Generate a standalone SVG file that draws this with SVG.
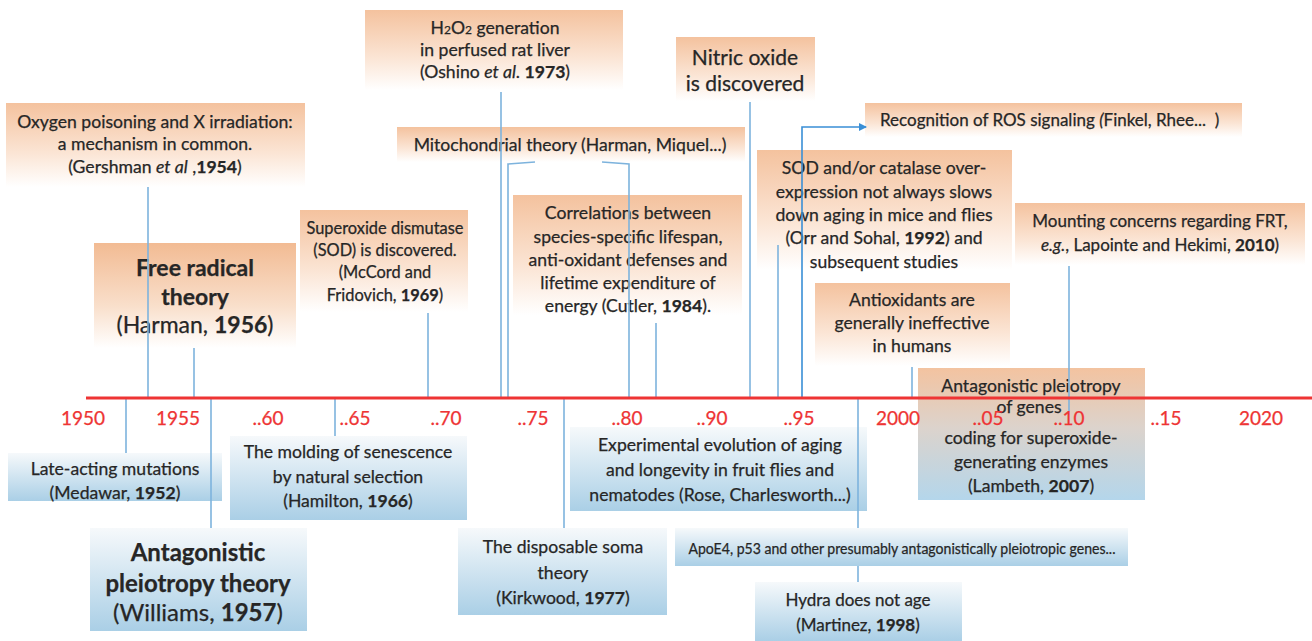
<svg xmlns="http://www.w3.org/2000/svg" width="1312" height="641" viewBox="0 0 1312 641">
<defs>
<linearGradient id="og" x1="0" y1="0" x2="0" y2="1"><stop offset="0" stop-color="#f4c29e"/><stop offset="0.6" stop-color="#fbe5d5"/><stop offset="1" stop-color="#ffffff"/></linearGradient>
<linearGradient id="ogs" x1="0" y1="0" x2="0" y2="1"><stop offset="0" stop-color="#f2bb93"/><stop offset="0.6" stop-color="#f9dfcb"/><stop offset="1" stop-color="#ffffff"/></linearGradient>
<linearGradient id="bg" x1="0" y1="0" x2="0" y2="1"><stop offset="0" stop-color="#f6f9fb"/><stop offset="1" stop-color="#aacfe6"/></linearGradient>
<linearGradient id="mg" x1="0" y1="0" x2="0" y2="1"><stop offset="0" stop-color="#f3c3a0"/><stop offset="0.45" stop-color="#dcd3cc"/><stop offset="1" stop-color="#b4d6eb"/></linearGradient>
<marker id="arr" markerWidth="8" markerHeight="8" refX="7" refY="4" orient="auto" markerUnits="userSpaceOnUse"><path d="M0,0 L8,4 L0,8 Z" fill="#3a8fd6"/></marker>
<style>
text{font-family:Lato,"Liberation Sans",sans-serif;fill:#262626;stroke:#262626;stroke-width:0.25;text-anchor:middle;font-size:17.6px}
.s16{font-size:16.4px}
.s17{font-size:17px}
.s15{font-size:15.5px}
.big{font-size:23px}
.wil{font-size:24px}
.nit{font-size:21px}
.b{font-weight:bold}
.i{font-style:italic}
.yr{fill:#ee3434;stroke:#ee3434;font-size:19px}
.c{stroke:#7db3dd;stroke-width:1.6;fill:none}
.a{stroke:#3a8fd6;stroke-width:1.6;fill:none}
.ax{stroke:#ee3434;stroke-width:3}
</style>
</defs>
<rect width="1312" height="641" fill="#ffffff"/>

<g id="n-gershman"><rect x="6" y="103" width="299" height="84" fill="url(#og)"/>
<text x="155" y="128">Oxygen poisoning and X irradiation:</text>
<text x="155" y="150">a mechanism in common.</text>
<text x="155" y="173">(Gershman <tspan class="i">et al</tspan> ,<tspan class="b">1954</tspan>)</text></g>

<g id="n-freeradical"><rect x="94" y="243" width="202" height="105" fill="url(#ogs)"/>
<text class="big b" x="195" y="276">Free radical</text>
<text class="big b" x="195" y="305">theory</text>
<text class="big" x="195" y="333">(Harman, <tspan class="b">1956</tspan>)</text></g>

<g id="n-sod"><rect x="300" y="210" width="168" height="102" fill="url(#og)"/>
<text class="s16" x="385" y="234">Superoxide dismutase</text>
<text class="s16" x="385" y="256">(SOD) is discovered.</text>
<text class="s16" x="385" y="278">(McCord and</text>
<text class="s16" x="385" y="301">Fridovich, <tspan class="b">1969</tspan>)</text></g>

<g id="n-h2o2"><rect x="365" y="10" width="258" height="80" fill="url(#og)"/>
<text x="495" y="34">H<tspan font-size="12">2</tspan>O<tspan font-size="12">2</tspan> generation</text>
<text x="495" y="56">in perfused rat liver</text>
<text x="495" y="78">(Oshino <tspan class="i">et al</tspan>. <tspan class="b">1973</tspan>)</text></g>

<g id="n-mito"><rect x="397" y="127" width="348" height="35" fill="url(#og)"/>
<text x="570" y="151">Mitochondrial theory (Harman, Miquel...)</text></g>

<g id="n-cutler"><rect x="513" y="195" width="229" height="120" fill="url(#og)"/>
<text x="628" y="219">Correlations between</text>
<text x="628" y="243">species-specific lifespan,</text>
<text x="628" y="266">anti-oxidant defenses and</text>
<text x="628" y="289">lifetime expenditure of</text>
<text x="628" y="312">energy (Cutler, <tspan class="b">1984</tspan>).</text></g>

<g id="n-nitric"><rect x="676" y="37" width="139" height="64" fill="url(#og)"/>
<text class="nit" x="745" y="65">Nitric oxide</text>
<text class="nit" x="745" y="91">is discovered</text></g>

<g id="n-ros"><rect x="865" y="103" width="377" height="34" fill="url(#og)"/>
<text class="s17" x="880" y="126" style="text-anchor:start" xml:space="preserve">Recognition of ROS signaling <tspan class="i">(</tspan>Finkel, Rhee...  )</text></g>

<g id="n-sodcat"><rect x="757" y="150" width="255" height="120" fill="url(#og)"/>
<text x="884" y="174">SOD and/or catalase over-</text>
<text x="884" y="198">expression not always slows</text>
<text x="884" y="221">down aging in mice and flies</text>
<text x="884" y="244">(Orr and Sohal, <tspan class="b">1992</tspan>) and</text>
<text x="884" y="268">subsequent studies</text></g>

<g id="n-mounting"><rect x="1015" y="203" width="290" height="62" fill="url(#og)"/>
<text class="s17" x="1160" y="227">Mounting concerns regarding FRT,</text>
<text class="s17" x="1160" y="251"><tspan class="i">e.g.</tspan>, Lapointe and Hekimi, <tspan class="b">2010</tspan>)</text></g>

<g id="n-antiox"><rect x="815" y="283" width="195" height="83" fill="url(#og)"/>
<text x="912" y="306">Antioxidants are</text>
<text x="912" y="329">generally ineffective</text>
<text x="912" y="352">in humans</text></g>

<g id="n-lambeth"><rect x="918" y="368" width="227" height="132" fill="url(#mg)"/>
<text x="1031" y="392">Antagonistic pleiotropy</text>
<text x="1029" y="413" font-size="12.5">of genes</text>
<text x="1031" y="444">coding for superoxide-</text>
<text x="1031" y="468">generating enzymes</text>
<text x="1031" y="492">(Lambeth, <tspan class="b">2007</tspan>)</text></g>

<g id="n-medawar"><rect x="8" y="453" width="214" height="48" fill="url(#bg)"/>
<text x="115" y="475">Late-acting mutations</text>
<text x="115" y="499">(Medawar, <tspan class="b">1952</tspan>)</text></g>

<g id="n-hamilton"><rect x="230" y="436" width="237" height="84" fill="url(#bg)"/>
<text x="348" y="458">The molding of senescence</text>
<text x="348" y="483">by natural selection</text>
<text x="348" y="507">(Hamilton, <tspan class="b">1966</tspan>)</text></g>

<g id="n-williams"><rect x="90" y="528" width="217" height="103" fill="url(#bg)"/>
<text class="wil b" x="198" y="561">Antagonistic</text>
<text class="wil b" x="198" y="592">pleiotropy theory</text>
<text class="wil" x="198" y="621">(Williams, <tspan class="b">1957</tspan>)</text></g>

<g id="n-experimental"><rect x="570" y="427" width="297" height="84" fill="url(#bg)"/>
<text x="720" y="451">Experimental evolution of aging</text>
<text x="720" y="476">and longevity in fruit flies and</text>
<text x="720" y="501">nematodes (Rose, Charlesworth...)</text></g>

<g id="n-kirkwood"><rect x="458" y="528" width="209" height="87" fill="url(#bg)"/>
<text x="563" y="553">The disposable soma</text>
<text x="563" y="579">theory</text>
<text x="563" y="604">(Kirkwood, <tspan class="b">1977</tspan>)</text></g>

<g id="n-apoe4"><rect x="675" y="528" width="453" height="38" fill="url(#bg)"/>
<text class="s15" x="902" y="554" textLength="427" lengthAdjust="spacingAndGlyphs">ApoE4, p53 and other presumably antagonistically pleiotropic genes...</text></g>

<g id="n-hydra"><rect x="755" y="582" width="207" height="59" fill="url(#bg)"/>
<text class="s17" x="858" y="606">Hydra does not age</text>
<text class="s17" x="858" y="631">(Martinez, <tspan class="b">1998</tspan>)</text></g>

<g id="connectors">
<line class="c" x1="148" y1="187" x2="148" y2="398"/>
<line class="c" x1="194" y1="348" x2="194" y2="398"/>
<line class="c" x1="428" y1="313" x2="428" y2="398"/>
<line class="c" x1="501" y1="92" x2="501" y2="398"/>
<path class="c" d="M535,162 L508,164 L508,398"/>
<path class="c" d="M602,162 L629,164 L629,398"/>
<line class="c" x1="656" y1="323" x2="656" y2="398"/>
<line class="c" x1="750" y1="102" x2="750" y2="398"/>
<line class="c" x1="778" y1="245" x2="778" y2="398"/>
<path class="a" d="M802,398 L802,127 L866,127" marker-end="url(#arr)"/>
<line class="c" x1="912" y1="367" x2="912" y2="398"/>
<line class="c" x1="1069" y1="266" x2="1069" y2="415"/>
<line class="c" x1="126" y1="398" x2="126" y2="453"/>
<line class="c" x1="211" y1="398" x2="211" y2="528"/>
<line class="c" x1="335" y1="398" x2="335" y2="436"/>
<line class="c" x1="564" y1="398" x2="564" y2="528"/>
<line class="c" x1="858" y1="398" x2="858" y2="528"/>
<line class="c" x1="858" y1="566" x2="858" y2="582"/>
</g>

<g id="timeline">
<line class="ax" x1="86" y1="398" x2="1312" y2="398"/>
<text class="yr" x="83" y="425">1950</text>
<text class="yr" x="178" y="425">1955</text>
<text class="yr" x="268" y="425">..60</text>
<text class="yr" x="355" y="425">..65</text>
<text class="yr" x="446" y="425">..70</text>
<text class="yr" x="533" y="425">..75</text>
<text class="yr" x="627" y="425">..80</text>
<text class="yr" x="712" y="425">..90</text>
<text class="yr" x="799" y="425">..95</text>
<text class="yr" x="898" y="425">2000</text>
<text class="yr" x="988" y="425">..05</text>
<text class="yr" x="1069" y="425">..10</text>
<text class="yr" x="1166" y="425">..15</text>
<text class="yr" x="1261" y="425">2020</text>
</g>
</svg>
